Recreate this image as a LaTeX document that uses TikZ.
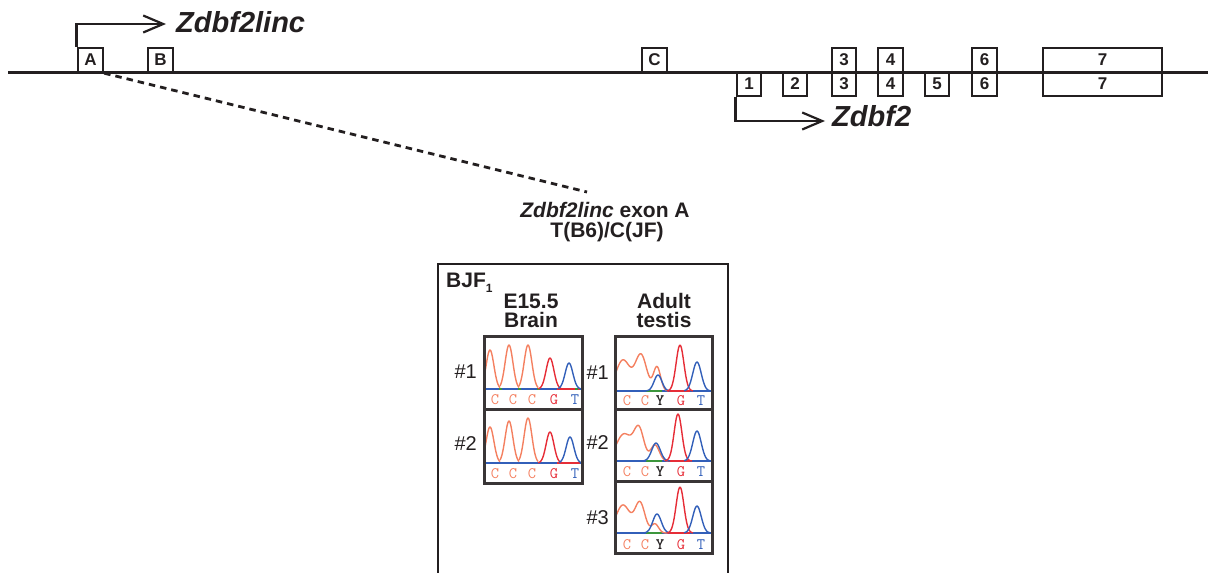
\documentclass[tikz,border=0pt]{standalone}
\usepackage{fontspec}
\setmainfont{Liberation Sans}
\usetikzlibrary{arrows.meta}
\definecolor{cC}{RGB}{244,128,96}
\definecolor{cG}{RGB}{230,45,55}
\definecolor{cT}{RGB}{50,95,185}
\definecolor{cGr}{RGB}{60,150,60}
\definecolor{ink}{RGB}{35,31,32}
\pgfmathdeclarefunction{gp}{4}{\begingroup\pgfmathparse{#4*exp(-min(((#1-#2)/#3)^2,12))}\pgfmathsmuggle\pgfmathresult\endgroup}
\begin{document}
\begin{tikzpicture}[x=1pt,y=-1pt,
 exon/.style={draw=ink,line width=2.4pt,fill=white,inner sep=0pt,minimum height=24pt,minimum width=24.5pt,font=\bfseries\fontsize{17}{17}\selectfont,text=ink},
 gene/.style={font=\bfseries\itshape\fontsize{29}{29}\selectfont,text=ink,anchor=base west,inner sep=0pt},
 lab/.style={font=\bfseries\fontsize{21}{21}\selectfont,text=ink,anchor=base,inner sep=0pt},
 num/.style={font=\fontsize{20}{20}\selectfont,text=ink,anchor=east,inner sep=0pt},
 ltr/.style={font=\ttfamily\fontsize{16}{16}\selectfont,inner sep=0pt},
 trace/.style={line width=1.4pt,line join=round},
 bl/.style={line width=1.4pt},
 chrom/.style={draw=ink!90,line width=3pt,inner sep=0pt},
 tss/.style={line width=2.8pt,draw=ink,-{Straight Barb[length=20pt,width=17pt,line width=2.2pt]}},
 dashline/.style={line width=2.8pt,draw=ink,dash pattern=on 6.5pt off 5pt},
]
\useasboundingbox (0,0) rectangle (1208,573);

% ---------- gene line and exons ----------
\coordinate (lineL) at (8,72);
\coordinate (lineR) at (1208,72);
\node[exon,minimum width=25pt] (eA) at (90.5,60) {A};
\node[exon] (eB) at (160.5,60) {B};
\node[exon] (eC) at (654.5,60) {C};
\node[exon] (e3U) at (844,60) {3};
\node[exon] (e4U) at (890.5,60) {4};
\node[exon] (e6U) at (984.5,60) {6};
\node[exon,minimum width=119pt] (e7U) at (1102.5,60) {7};
\node[exon] (e1L) at (749,84) {1};
\node[exon] (e2L) at (795,84) {2};
\node[exon] (e3L) at (844,84) {3};
\node[exon] (e4L) at (890.5,84) {4};
\node[exon] (e5L) at (937,84) {5};
\node[exon] (e6L) at (984.5,84) {6};
\node[exon,minimum width=119pt] (e7L) at (1102.5,84) {7};
\draw[line width=3pt,draw=ink] (lineL) -- (lineR);

% ---------- TSS arrows ----------
\node[gene] (lincLbl) at (176,32) {Zdbf2linc};
\node[gene] (zLbl) at (832,126) {Zdbf2};
\coordinate (lincTip) at (166,24);
\coordinate (zTip) at (825,121);
\draw[tss] (eA.north west) |- (lincTip);
\draw[tss] (e1L.south west) |- (zTip);

% ---------- zoom label ----------
\coordinate (dashEnd) at (587,192);
\draw[dashline] (eA.south east) -- (dashEnd);
\node[lab] (snp1) at (605,217) {\itshape Zdbf2linc\upshape{} exon A};
\node[lab] (snp2) at (607,237) {T(B6)/C(JF)};

% ---------- BJF1 panel ----------
\draw[line width=2.8pt,draw=ink] (438,585) -- (438,264) -- (728,264) -- (728,585);
\node[lab,anchor=base west] (bjf) at (446,287) {BJF\raisebox{-5pt}{\fontsize{12}{12}\selectfont 1}};
\node[lab] (hE) at (531,308) {E15.5};
\node[lab] (hB) at (531,327) {Brain};
\node[lab] (hA) at (664,308) {Adult};
\node[lab] (hT) at (664,327) {testis};

\node[num] (nL1) at (477,372) {\#1};
\node[num] (nL2) at (477,444) {\#2};
\node[num] (nR1) at (609,373) {\#1};
\node[num] (nR2) at (609,443) {\#2};
\node[num] (nR3) at (609,518) {\#3};

% ---------- left traces ----------
% box L1, baseline 389
\draw[cT,bl] (485,389) -- (581,389);
\draw[cG,bl] (557,389) -- (580,389);
\draw[cGr,bl] (499,389) -- (502,389) (518,389) -- (521,389) (537,389) -- (540,389) (575,389) -- (578,389);
\draw[cC,trace] plot[domain=485:500,samples=30,smooth] (\x,{389-gp(\x,490,5.5,39)});
\draw[cC,trace] plot[domain=500:519,samples=30,smooth] (\x,{389-gp(\x,509,5.5,44)});
\draw[cC,trace] plot[domain=519:538,samples=30,smooth] (\x,{389-gp(\x,528,5.5,44)});
\draw[cG,trace] plot[domain=538:561,samples=30,smooth] (\x,{389-gp(\x,550,5.5,31)});
\draw[cT,trace] plot[domain=558:581,samples=30,smooth] (\x,{389-gp(\x,569,5.5,26)});
% box L2, baseline 463
\draw[cT,bl] (485,463) -- (581,463);
\draw[cG,bl] (557,463) -- (580,463);
\draw[cC,trace] plot[domain=485:500,samples=30,smooth] (\x,{463-gp(\x,490,5.5,36)});
\draw[cC,trace] plot[domain=500:519,samples=30,smooth] (\x,{463-gp(\x,509,5.5,42)});
\draw[cC,trace] plot[domain=519:538,samples=30,smooth] (\x,{463-gp(\x,528,5.5,45)});
\draw[cG,trace] plot[domain=538:561,samples=30,smooth] (\x,{463-gp(\x,550,5.5,31)});
\draw[cT,trace] plot[domain=559:581,samples=30,smooth] (\x,{463-gp(\x,570,5.5,26)});

% ---------- right traces ----------
% box R1, baseline 391
\draw[cT,bl] (616,391) -- (711,391);
\draw[cGr,bl] (646,391) -- (662,391);
\draw[cG,bl] (668,391) -- (690,391);
\draw[cC,trace] plot[domain=616:668,samples=60,smooth] (\x,{391-gp(\x,623,10,31)-gp(\x,641,8,36)-gp(\x,657,5,24)});
\draw[cT,trace] plot[domain=645:670,samples=30,smooth] (\x,{391-gp(\x,658,5.5,16)});
\draw[cG,trace] plot[domain=667:693,samples=30,smooth] (\x,{391-gp(\x,680,5.5,46)});
\draw[cT,trace] plot[domain=684:711,samples=30,smooth] (\x,{391-gp(\x,697,6,29)});
% box R2, baseline 461
\draw[cT,bl] (616,461) -- (711,461);
\draw[cGr,bl] (646,461) -- (662,461);
\draw[cG,bl] (668,461) -- (690,461);
\draw[cC,trace] plot[domain=616:668,samples=60,smooth] (\x,{461-gp(\x,624,11,27)-gp(\x,639,7,31)-gp(\x,655,6,16)});
\draw[cT,trace] plot[domain=643:670,samples=30,smooth] (\x,{461-gp(\x,656,6,18)});
\draw[cG,trace] plot[domain=665:692,samples=30,smooth] (\x,{461-gp(\x,678,5.5,47)});
\draw[cT,trace] plot[domain=684:711,samples=30,smooth] (\x,{461-gp(\x,697,6,30)});
% box R3, baseline 533
\draw[cT,bl] (616,533) -- (711,533);
\draw[cGr,bl] (646,533) -- (662,533);
\draw[cG,bl] (668,533) -- (690,533);
\draw[cC,trace] plot[domain=616:668,samples=60,smooth] (\x,{533-gp(\x,623,10,28)-gp(\x,640,7,30)-gp(\x,655,5,9)});
\draw[cT,trace] plot[domain=644:670,samples=30,smooth] (\x,{533-gp(\x,657,6,19)});
\draw[cG,trace] plot[domain=667:693,samples=30,smooth] (\x,{533-gp(\x,680,5.5,46)});
\draw[cT,trace] plot[domain=684:711,samples=30,smooth] (\x,{533-gp(\x,697,6,27)});

% ---------- base letters ----------
\node[ltr,text=cC] (l1a) at (495,400) {C};
\node[ltr,text=cC] (l1b) at (513,400) {C};
\node[ltr,text=cC] (l1c) at (532,400) {C};
\node[ltr,text=cG] (l1d) at (554,400) {G};
\node[ltr,text=cT] (l1e) at (575,400) {T};
\node[ltr,text=cC] (l2a) at (495,474) {C};
\node[ltr,text=cC] (l2b) at (513,474) {C};
\node[ltr,text=cC] (l2c) at (532,474) {C};
\node[ltr,text=cG] (l2d) at (554,474) {G};
\node[ltr,text=cT] (l2e) at (575,474) {T};
\node[ltr,text=cC] (r1a) at (627,401) {C};
\node[ltr,text=cC] (r1b) at (645,401) {C};
\node[ltr,text=ink,font=\ttfamily\bfseries\fontsize{16}{16}\selectfont] (r1c) at (660,401) {Y};
\node[ltr,text=cG] (r1d) at (681,401) {G};
\node[ltr,text=cT] (r1e) at (701,401) {T};
\node[ltr,text=cC] (r2a) at (627,472) {C};
\node[ltr,text=cC] (r2b) at (645,472) {C};
\node[ltr,text=ink,font=\ttfamily\bfseries\fontsize{16}{16}\selectfont] (r2c) at (660,472) {Y};
\node[ltr,text=cG] (r2d) at (681,472) {G};
\node[ltr,text=cT] (r2e) at (701,472) {T};
\node[ltr,text=cC] (r3a) at (627,545) {C};
\node[ltr,text=cC] (r3b) at (645,545) {C};
\node[ltr,text=ink,font=\ttfamily\bfseries\fontsize{16}{16}\selectfont] (r3c) at (660,545) {Y};
\node[ltr,text=cG] (r3d) at (681,545) {G};
\node[ltr,text=cT] (r3e) at (701,545) {T};

% ---------- chromatogram frames ----------
\node[chrom,minimum width=98pt,minimum height=73pt] (L1) at (533,372.5) {};
\node[chrom,minimum width=98pt,minimum height=74pt] (L2) at (533,446) {};
\node[chrom,minimum width=97pt,minimum height=73pt] (R1) at (663.5,372.5) {};
\node[chrom,minimum width=97pt,minimum height=72pt] (R2) at (663.5,445) {};
\node[chrom,minimum width=97pt,minimum height=72pt] (R3) at (663.5,517) {};
\end{tikzpicture}
\end{document}
